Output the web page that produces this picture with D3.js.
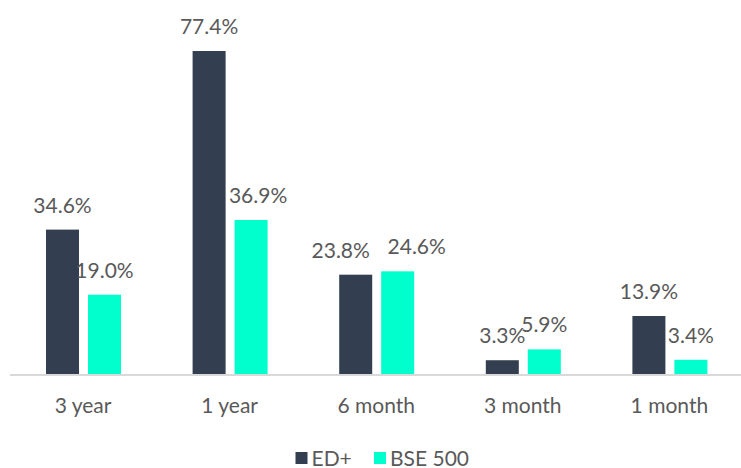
<!DOCTYPE html>
<html>
<head>
<meta charset="utf-8">
<script src="https://cdn.jsdelivr.net/npm/d3@7"></script>
<style>
  body { margin: 0; background: #fff; }
  svg text { font-family: Lato, "Liberation Sans", sans-serif; fill: #595959; }
</style>
</head>
<body>
<svg width="741" height="468"></svg>
<script>
// chart data
const periods = ["3 year", "1 year", "6 month", "3 month", "1 month"];
const seriesNames = ["ED+", "BSE 500"];
const edPlus = [34.6, 77.4, 23.8, 3.3, 13.9];
const bse500 = [19.0, 36.9, 24.6, 5.9, 3.4];
const colors = ["#333f50", "#00ffcc"];

// a few value labels were dragged sideways in the original chart
const labelNudge = { "1 year": [0, 7], "6 month": [-15, 19] };

const svg = d3.select("svg");
const baseY = 374;
const fs = 21;

let x = d3.scaleBand().domain(periods).range([9.7, 742.7]).padding(0);
let xInner = d3.scaleBand().domain(seriesNames)
  .range([36.3, 111.3]).paddingInner(0.214).paddingOuter(0);
let y = d3.scaleLinear().domain([0, 80]).range([baseY, baseY - 80 * 4.173]);

const rows = periods.map((p, i) => ({ period: p, values: [edPlus[i], bse500[i]] }));

const groups = svg.append("g").selectAll("g")
  .data(rows)
  .enter()
  .append("g")
  .attr("transform", d => `translate(${x(d.period)},0)`);

groups.selectAll("rect")
  .data(d => d.values.map((v, j) => ({ name: seriesNames[j], v: v, c: colors[j] })))
  .enter()
  .append("rect")
  .attr("x", d => xInner(d.name))
  .attr("width", xInner.bandwidth())
  .attr("y", d => y(d.v))
  .attr("height", d => baseY - y(d.v))
  .attr("fill", d => d.c);

groups.selectAll("text.val")
  .data(d => d.values.map((v, j) => ({ name: seriesNames[j], v: v, j: j, p: d.period })))
  .enter()
  .append("text")
  .attr("class", "val")
  .attr("x", d => xInner(d.name) + xInner.bandwidth() / 2 + (labelNudge[d.p] ? labelNudge[d.p][d.j] : 0))
  .attr("y", d => y(d.v) - 17)
  .attr("text-anchor", "middle")
  .attr("font-size", fs)
  .text(d => d.v.toFixed(1) + "%");

// baseline axis
svg.append("line")
  .attr("x1", 10).attr("x2", 741)
  .attr("y1", baseY + 1).attr("y2", baseY + 1)
  .attr("stroke", "#d9d9d9").attr("stroke-width", 2);

const xAxis = svg.append("g")
  .attr("transform", `translate(0,${baseY})`)
  .call(d3.axisBottom(x).tickSize(0));
xAxis.select(".domain").remove();
xAxis.selectAll("text")
  .attr("y", 39)
  .attr("dy", 0)
  .attr("font-size", fs)
  .style("font-family", "Lato, sans-serif")
  .attr("fill", "#595959");

// legend
const legendItems = [
  { name: "ED+", x: 295.5, c: colors[0] },
  { name: "BSE 500", x: 374, c: colors[1] }
];
const legend = svg.append("g").selectAll("g")
  .data(legendItems)
  .enter()
  .append("g")
  .attr("transform", d => `translate(${d.x},452)`);
legend.append("rect").attr("width", 12).attr("height", 12).attr("fill", d => d.c);
legend.append("text").attr("x", 16).attr("y", 13.5)
  .attr("font-size", fs).text(d => d.name);
</script>
</body>
</html>
